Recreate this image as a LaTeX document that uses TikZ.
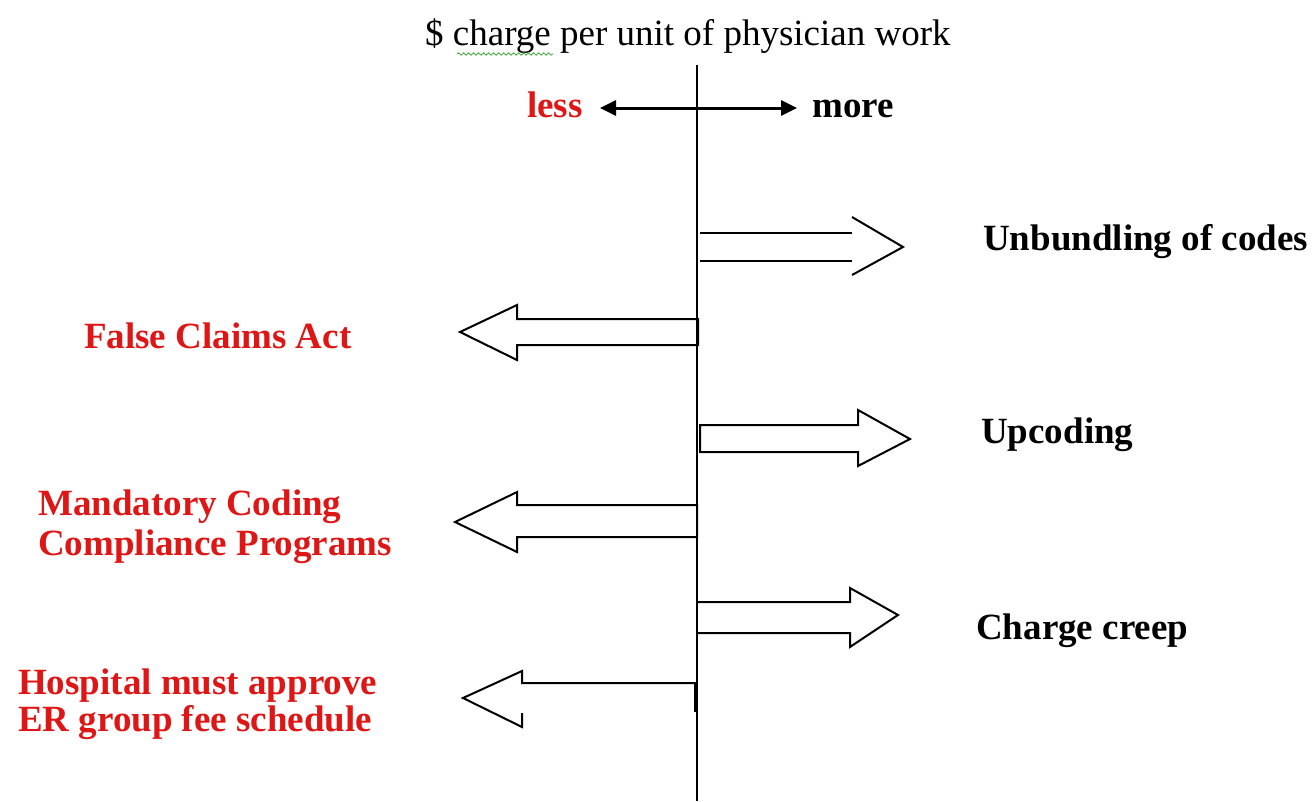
\documentclass[tikz,border=0pt]{standalone}
\usepackage{fontspec}
\setmainfont{Liberation Serif}
\usetikzlibrary{arrows.meta,decorations.pathmorphing}
\definecolor{txtred}{RGB}{222,22,22}
\definecolor{squig}{RGB}{60,170,60}
\begin{document}
\begin{tikzpicture}[x=1pt,y=-1pt,
  lbl/.style={anchor=base west,inner sep=0pt,font=\fontsize{37}{40}\selectfont\bfseries,align=left},
  redlbl/.style={lbl,text=txtred},
  blk/.style={line width=2pt,line join=miter},
  axis/.style={line width=1.8pt}]
\useasboundingbox (0,0) rectangle (1313,801);
\fill[white] (0,0) rectangle (1313,801);
% title
\node[anchor=base west,inner sep=0pt,font=\fontsize{37}{40}\selectfont] (title) at (425,45) {\$ charge per unit of physician work};
\draw[squig,line width=0.8pt,decorate,decoration={snake,amplitude=1.2pt,segment length=5pt}] (457,54) -- (553,54);
% axis
\coordinate (atop) at (697,65);
\coordinate (abot) at (697,801);
\draw[axis] (atop) -- (abot);
% less / more
\node[redlbl] (less) at (527,117) {less};
\node[lbl] (more) at (812,117) {more};
\coordinate (lm1) at (600,108);
\coordinate (lm2) at (797,108);
\draw[line width=3pt,{Triangle[length=16pt,width=15pt]}-{Triangle[length=16pt,width=15pt]}] (lm1) -- (lm2);
% labels
\node[lbl] (unb) at (983,250) {Unbundling of codes};
\node[redlbl] (fca) at (84,348) {False Claims Act};
\node[lbl] (upc) at (981,443) {Upcoding};
\node[redlbl] (mcc) at (38,555) {Mandatory Coding\\Compliance Programs};
\node[redlbl] (hos) at (18,731) {Hospital must approve\\[-3pt]ER group fee schedule};
\node[lbl] (chc) at (976,639) {Charge creep};
% block arrows
\draw[blk] (700,233) -- (852,233);
\draw[blk] (700,261) -- (852,261);
\draw[blk] (852,217) -- (903,247) -- (852,275);
\draw[blk] (698,319) -- (517,319) -- (517,305) -- (460,332) -- (517,360) -- (517,345) -- (698,345) -- cycle;
\draw[blk] (700,425) -- (858,425) -- (858,410) -- (910,439) -- (858,466) -- (858,452) -- (700,452) -- cycle;
\draw[blk] (697,505) -- (517,505) -- (517,492) -- (455,522) -- (517,552) -- (517,537) -- (697,537) -- cycle;
\draw[blk] (697,602) -- (850,602) -- (850,588) -- (898,615) -- (850,647) -- (850,633) -- (697,633);
\draw[blk] (697,683) -- (522,683) -- (522,671) -- (463,698) -- (522,727) -- (522,713);
\draw[line width=3.5pt] (696,683) -- (696,712);
\end{tikzpicture}
\end{document}
